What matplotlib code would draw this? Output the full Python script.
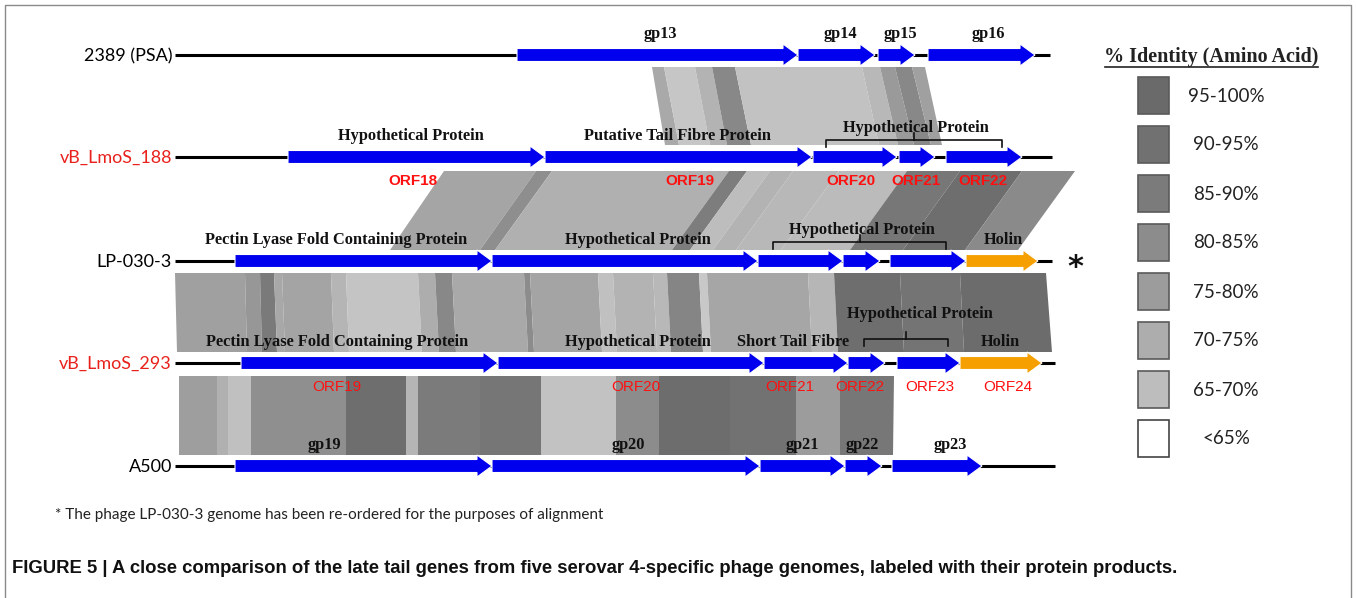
import matplotlib
matplotlib.use("Agg")
import matplotlib.pyplot as plt
import matplotlib.patches as mpatches

# Genome tracks (genome coordinates shown on a pixel-like scale)
tracks = ["2389 (PSA)", "vB_LmoS_188", "LP-030-3", "vB_LmoS_293", "A500"]
track_y = [55, 157, 261, 363, 466]
track_colors = ["black", "#e8211c", "black", "#e8211c", "black"]
line_end = [1050, 1052, 1052, 1055, 1055]

# genes: (start, end, colour key)
genes_psa = [(517, 798, "b"), (798, 875, "b"), (878, 915, "b"), (928, 1035, "b")]
genes_188 = [(288, 545, "b"), (545, 812, "b"), (813, 897, "b"), (899, 935, "b"), (946, 1022, "b")]
genes_lp = [(235, 492, "b"), (492, 758, "b"), (758, 843, "b"), (843, 880, "b"), (890, 966, "b"), (966, 1038, "o")]
genes_293 = [(241, 498, "b"), (498, 764, "b"), (764, 848, "b"), (848, 885, "b"), (897, 960, "b"), (960, 1042, "o")]
genes_a500 = [(235, 492, "b"), (492, 760, "b"), (760, 845, "b"), (845, 882, "b"), (892, 982, "b")]
all_genes = [genes_psa, genes_188, genes_lp, genes_293, genes_a500]

# gene product labels above tracks: (x, text)
labels_psa = [(660, "gp13"), (840, "gp14"), (900, "gp15"), (988, "gp16")]
labels_188 = [(411, "Hypothetical Protein"), (678, "Putative Tail Fibre Protein")]
labels_lp = [(336, "Pectin Lyase Fold Containing Protein"), (638, "Hypothetical Protein"), (1003, "Holin")]
labels_293 = [(337, "Pectin Lyase Fold Containing Protein"), (638, "Hypothetical Protein"),
              (793, "Short Tail Fibre"), (1000, "Holin")]
labels_a500 = [(324, "gp19"), (628, "gp20"), (802, "gp21"), (862, "gp22"), (950, "gp23")]
all_labels = [labels_psa, labels_188, labels_lp, labels_293, labels_a500]

# ORF names below tracks
orfs_188 = [(413, "ORF18"), (690, "ORF19"), (851, "ORF20"), (916, "ORF21"), (983, "ORF22")]
orfs_293 = [(337, "ORF19"), (636, "ORF20"), (790, "ORF21"), (860, "ORF22"), (930, "ORF23"), (1008, "ORF24")]

# identity shading between neighbouring tracks: (top x0, top x1, bottom x0, bottom x1, grey)
band_psa_188 = [
    (652, 664, 665, 679, "#a9a9a9"), (664, 695, 679, 710, "#c6c6c6"), (695, 712, 710, 727, "#b3b3b3"),
    (712, 735, 727, 751, "#888888"), (735, 862, 751, 879, "#c2c2c2"), (862, 880, 879, 898, "#b8b8b8"),
    (880, 895, 898, 914, "#9a9a9a"), (895, 912, 914, 931, "#888888"), (912, 925, 931, 942, "#a0a0a0"),
]
band_188_lp = [
    (444, 536, 390, 480, "#a5a5a5"), (536, 552, 480, 495, "#8e8e8e"), (552, 729, 495, 672, "#b0b0b0"),
    (729, 747, 672, 690, "#7d7d7d"), (747, 770, 690, 713, "#bdbdbd"), (770, 793, 713, 736, "#b3b3b3"),
    (793, 839, 736, 781, "#b8b8b8"), (839, 907, 781, 850, "#bbbbbb"), (907, 960, 850, 903, "#777777"),
    (960, 1022, 903, 965, "#6e6e6e"), (1022, 1075, 965, 1018, "#8a8a8a"),
]
band_lp_293 = [
    (175, 245, 177, 247, "#a0a0a0"), (245, 260, 247, 262, "#979797"), (260, 274, 262, 277, "#7a7a7a"),
    (274, 282, 277, 285, "#a8a8a8"), (282, 331, 285, 334, "#a4a4a4"), (331, 346, 334, 349, "#b5b5b5"),
    (346, 418, 349, 422, "#c4c4c4"), (418, 435, 422, 439, "#adadad"), (435, 452, 439, 456, "#888888"),
    (452, 524, 456, 528, "#a9a9a9"), (524, 530, 528, 534, "#8c8c8c"), (530, 598, 534, 602, "#a4a4a4"),
    (598, 613, 602, 617, "#c0c0c0"), (613, 653, 617, 657, "#b3b3b3"), (653, 667, 657, 671, "#b8b8b8"),
    (667, 699, 671, 703, "#858585"), (699, 707, 703, 711, "#c8c8c8"), (707, 808, 711, 812, "#a6a6a6"),
    (808, 834, 812, 838, "#b6b6b6"), (834, 900, 838, 904, "#6e6e6e"), (900, 960, 904, 964, "#747474"),
    (960, 1046, 964, 1052, "#6c6c6c"),
]
band_293_a500 = [
    (179, 217, 179, 217, "#9e9e9e"), (217, 228, 217, 228, "#b0b0b0"), (228, 251, 228, 251, "#c0c0c0"),
    (251, 346, 251, 346, "#8f8f8f"), (346, 406, 346, 406, "#6e6e6e"), (406, 418, 406, 418, "#b5b5b5"),
    (418, 480, 418, 480, "#7b7b7b"), (480, 541, 480, 541, "#767676"), (541, 616, 541, 616, "#c2c2c2"),
    (616, 659, 616, 659, "#8c8c8c"), (659, 730, 659, 730, "#6d6d6d"), (730, 796, 730, 796, "#727272"),
    (796, 840, 796, 840, "#9c9c9c"), (840, 894, 840, 893, "#777777"),
]
bands = [band_psa_188, band_188_lp, band_lp_293, band_293_a500]
band_y = [(67, 145), (171, 250), (273, 352), (376, 455)]

# legend
legend_labels = ["95-100%", "90-95%", "85-90%", "80-85%", "75-80%", "70-75%", "65-70%", "<65%"]
legend_colors = ["#6a6a6a", "#717171", "#7b7b7b", "#8c8c8c", "#9c9c9c", "#adadad", "#bdbdbd", "white"]

gene_colors = {"b": "#0000ee", "o": "#f5a000"}

fig = plt.figure(figsize=(13.57, 5.98), dpi=100)
ax = fig.add_axes([0, 0, 1, 1])
ax.set_xlim(0, 1357)
ax.set_ylim(598, 0)
ax.axis("off")

# figure frame (open at the bottom)
ax.plot([5, 5, 1351, 1351], [598, 5, 5, 598], color="#8a8a8a", lw=1, zorder=0)

# shading bands
for band, (y0, y1) in zip(bands, band_y):
    for tx0, tx1, bx0, bx1, c in band:
        ax.add_patch(mpatches.Polygon([(tx0, y0), (tx1, y0), (bx1, y1), (bx0, y1)],
                                      closed=True, facecolor=c, edgecolor="none", zorder=1))

body_h = 6.5
head_h = 11
head_len = 15


def gene_arrow(x0, x1, y, color):
    hx = max(x0, x1 - head_len)
    pts = [(x0, y - body_h), (hx, y - body_h), (hx, y - head_h), (x1, y),
           (hx, y + head_h), (hx, y + body_h), (x0, y + body_h)]
    return mpatches.Polygon(pts, closed=True, facecolor=color, edgecolor="white", lw=0.8, zorder=3)


for name, y, tc, xe, genes, labels in zip(tracks, track_y, track_colors, line_end, all_genes, all_labels):
    ax.plot([175, xe], [y, y], color="black", lw=2.2, zorder=2, solid_capstyle="butt")
    ax.text(172, y + 1, name, ha="right", va="center", fontsize=13, color=tc, family="Lato")
    for x0, x1, c in genes:
        ax.add_patch(gene_arrow(x0, x1, y, gene_colors[c]))
    for x, t in labels:
        ax.text(x, y - 17, t, ha="center", va="baseline", fontsize=11.8, fontweight="bold",
                family="Liberation Serif", color="#111111", zorder=4)

for x, t in orfs_188:
    ax.text(x, track_y[1] + 28, t, ha="center", va="baseline", fontsize=11, fontweight="bold",
            family="Liberation Sans", color="#ff1010", zorder=4)
for x, t in orfs_293:
    ax.text(x, track_y[3] + 28, t, ha="center", va="baseline", fontsize=11,
            family="Liberation Sans", color="#ff1010", zorder=4)

# brackets for grouped hypothetical proteins
brackets = [(826, 1002, 140, 916, 132), (773, 946, 242, 862, 234), (864, 948, 339, 920, 318)]
for (bx0, bx1, by, lx, ly) in brackets:
    cx = (bx0 + bx1) / 2
    ax.plot([bx0, bx0, bx1, bx1], [by + 7, by, by, by + 7], color="#111111", lw=1.2, zorder=4)
    ax.plot([cx, cx], [by, by - 7], color="#111111", lw=1.2, zorder=4)
    ax.text(lx, ly, "Hypothetical Protein", ha="center", va="baseline", fontsize=11.8,
            fontweight="bold", family="Liberation Serif", color="#111111", zorder=5)

ax.text(1075, 267, "*", ha="center", va="center", fontsize=22, color="#111111", fontweight="bold")

# legend
ax.text(1211, 62, "% Identity (Amino Acid)", ha="center", va="baseline", fontsize=14.5,
        fontweight="bold", family="Liberation Serif", color="#222222")
ax.plot([1105, 1318], [67, 67], color="#222222", lw=1.2)
for i, (lab, c) in enumerate(zip(legend_labels, legend_colors)):
    top = 77 + i * 49
    ec = "#444444" if c == "white" else "#5a5a5a"
    ax.add_patch(mpatches.Rectangle((1138, top), 31, 37, facecolor=c, edgecolor=ec, lw=1.2))
    ax.text(1226, top + 19, lab, ha="center", va="center", fontsize=13.5, family="Lato",
            color="#222222")

ax.text(55, 519, "* The phage LP-030-3 genome has been re-ordered for the purposes of alignment",
        ha="left", va="baseline", fontsize=11, family="Lato", color="#222222")

ax.text(12, 573, "FIGURE 5 | A close comparison of the late tail genes from five serovar 4-specific "
        "phage genomes, labeled with their protein products.",
        ha="left", va="baseline", fontsize=13.3, fontweight="bold", family="Liberation Sans",
        color="#111111")

fig.savefig("out.png", dpi=100)
